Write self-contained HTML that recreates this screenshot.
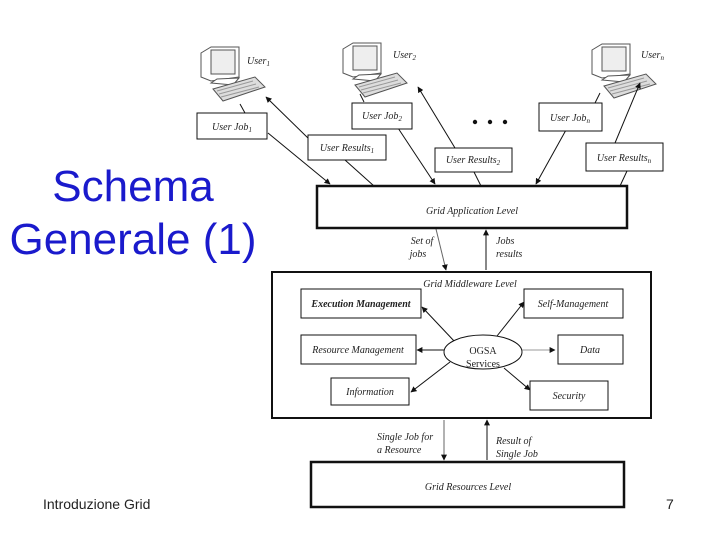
<!DOCTYPE html>
<html><head><meta charset="utf-8"><style>
html,body{margin:0;padding:0;background:#fff;width:720px;height:540px;overflow:hidden}
svg{display:block}
.t{font-family:"Liberation Serif",serif;font-style:italic;font-size:10px;fill:#222}
</style></head><body>
<svg width="720" height="540" viewBox="0 0 720 540" xmlns="http://www.w3.org/2000/svg">
<defs>
<marker id="a" viewBox="0 0 10 10" refX="9" refY="5" markerWidth="6" markerHeight="6" orient="auto"><path d="M0,0L10,5L0,10z" fill="#111"/></marker>
<g id="pc" fill="#fff" stroke="#555" stroke-width="1">
<path d="M2,8 L12,2 L40,2 L40,32 L12,36 L2,32 Z"/>
<rect x="12" y="5" width="24" height="24" fill="#eee"/>
<path d="M12,38 L18,34 L40,33 L34,40 Z"/>
<path d="M14,44 L56,32 L66,42 L24,56 Z" fill="#ddd"/>
<path d="M18,46 L54,36 M20,49 L57,39 M22,52 L60,42" stroke="#999"/>
</g>
</defs>
<text x="133" y="201" text-anchor="middle" font-family="Liberation Sans,sans-serif" font-size="44" fill="#1a1acc">Schema</text>
<text x="133" y="254" text-anchor="middle" font-family="Liberation Sans,sans-serif" font-size="44" fill="#1a1acc">Generale (1)</text>
<text x="43" y="509" font-family="Liberation Sans,sans-serif" font-size="14" fill="#222">Introduzione Grid</text>
<text x="666" y="509" font-family="Liberation Sans,sans-serif" font-size="14" fill="#222">7</text>

<use href="#pc" x="199" y="45"/>
<use href="#pc" x="341" y="41"/>
<use href="#pc" x="590" y="42"/>
<text class="t" x="247" y="64">User<tspan font-size="7" dy="2">1</tspan></text>
<text class="t" x="393" y="58">User<tspan font-size="7" dy="2">2</tspan></text>
<text class="t" x="641" y="58">User<tspan font-size="7" dy="2">n</tspan></text>

<g stroke="#111" stroke-width="1" fill="none" marker-end="url(#a)">
<line x1="268" y1="133" x2="330" y2="184"/>
<line x1="310" y1="140" x2="266" y2="97"/>
<line x1="398" y1="128" x2="435" y2="184"/>
<line x1="455" y1="148" x2="418" y2="87"/>
<line x1="566" y1="130" x2="536" y2="184"/>
<line x1="615" y1="143" x2="640" y2="83"/>
<line x1="436" y1="229" x2="446" y2="270" stroke="#666"/>
<line x1="486" y1="270" x2="486" y2="230"/>
<line x1="455" y1="342" x2="422" y2="307"/>
<line x1="444" y1="350" x2="417" y2="350"/>
<line x1="450" y1="362" x2="411" y2="392"/>
<line x1="497" y1="336" x2="524" y2="302"/>
<line x1="521" y1="350" x2="555" y2="350" stroke="#999"/>
<line x1="504" y1="368" x2="530" y2="390"/>
<line x1="444" y1="420" x2="444" y2="460" stroke="#666"/>
<line x1="487" y1="460" x2="487" y2="420"/>
</g>
<g stroke="#111" stroke-width="1">
<line x1="245" y1="113" x2="240" y2="104"/>
<line x1="364" y1="102" x2="360" y2="94"/>
<line x1="345" y1="160" x2="374" y2="186"/>
<line x1="474" y1="172" x2="481" y2="186"/>
<line x1="595" y1="103" x2="600" y2="93"/>
<line x1="627" y1="171" x2="620" y2="186"/>
</g>
<circle cx="475" cy="122" r="2.2" fill="#111"/><circle cx="490" cy="122" r="2.2" fill="#111"/><circle cx="505" cy="122" r="2.2" fill="#111"/>

<g fill="#fff" stroke="#111" stroke-width="1">
<rect x="197" y="113" width="70" height="26"/>
<rect x="308" y="135" width="78" height="25"/>
<rect x="352" y="103" width="60" height="26"/>
<rect x="435" y="148" width="77" height="24"/>
<rect x="539" y="103" width="63" height="28"/>
<rect x="586" y="143" width="77" height="28"/>
</g>
<text class="t" x="232" y="130" text-anchor="middle">User Job<tspan font-size="7" dy="2">1</tspan></text>
<text class="t" x="347" y="151" text-anchor="middle">User Results<tspan font-size="7" dy="2">1</tspan></text>
<text class="t" x="382" y="119" text-anchor="middle">User Job<tspan font-size="7" dy="2">2</tspan></text>
<text class="t" x="473" y="163" text-anchor="middle">User Results<tspan font-size="7" dy="2">2</tspan></text>
<text class="t" x="570" y="121" text-anchor="middle">User Job<tspan font-size="7" dy="2">n</tspan></text>
<text class="t" x="624" y="161" text-anchor="middle">User Results<tspan font-size="7" dy="2">n</tspan></text>

<rect x="317" y="186" width="310" height="42" fill="#fff" stroke="#111" stroke-width="2.5"/>
<text class="t" x="472" y="214" text-anchor="middle">Grid Application Level</text>
<text class="t" x="422" y="244" text-anchor="middle">Set of</text>
<text class="t" x="418" y="257" text-anchor="middle">jobs</text>
<text class="t" x="496" y="244">Jobs</text>
<text class="t" x="496" y="257">results</text>

<rect x="272" y="272" width="379" height="146" fill="none" stroke="#111" stroke-width="2"/>
<text class="t" x="470" y="287" text-anchor="middle">Grid Middleware Level</text>
<g fill="#fff" stroke="#111" stroke-width="1">
<rect x="301" y="289" width="120" height="29"/>
<rect x="524" y="289" width="99" height="29"/>
<rect x="301" y="335" width="115" height="29"/>
<rect x="558" y="335" width="65" height="29"/>
<rect x="331" y="378" width="78" height="27"/>
<rect x="530" y="381" width="78" height="29"/>
<ellipse cx="483" cy="352" rx="39" ry="17"/>
</g>
<text class="t" x="361" y="307" text-anchor="middle" font-weight="bold" fill="#000">Execution Management</text>
<text class="t" x="573" y="307" text-anchor="middle">Self-Management</text>
<text class="t" x="358" y="353" text-anchor="middle">Resource Management</text>
<text class="t" x="590" y="353" text-anchor="middle">Data</text>
<text class="t" x="370" y="395" text-anchor="middle">Information</text>
<text class="t" x="569" y="399" text-anchor="middle">Security</text>
<text x="483" y="354" text-anchor="middle" font-family="Liberation Serif,serif" font-size="10" fill="#222">OGSA</text>
<text x="483" y="367" text-anchor="middle" font-family="Liberation Serif,serif" font-size="10" fill="#222">Services</text>

<text class="t" x="377" y="440">Single Job for</text>
<text class="t" x="377" y="453">a Resource</text>
<text class="t" x="496" y="444">Result of</text>
<text class="t" x="496" y="457">Single Job</text>
<rect x="311" y="462" width="313" height="45" fill="#fff" stroke="#111" stroke-width="2.5"/>
<text class="t" x="468" y="490" text-anchor="middle">Grid Resources Level</text>
</svg>
</body></html>
